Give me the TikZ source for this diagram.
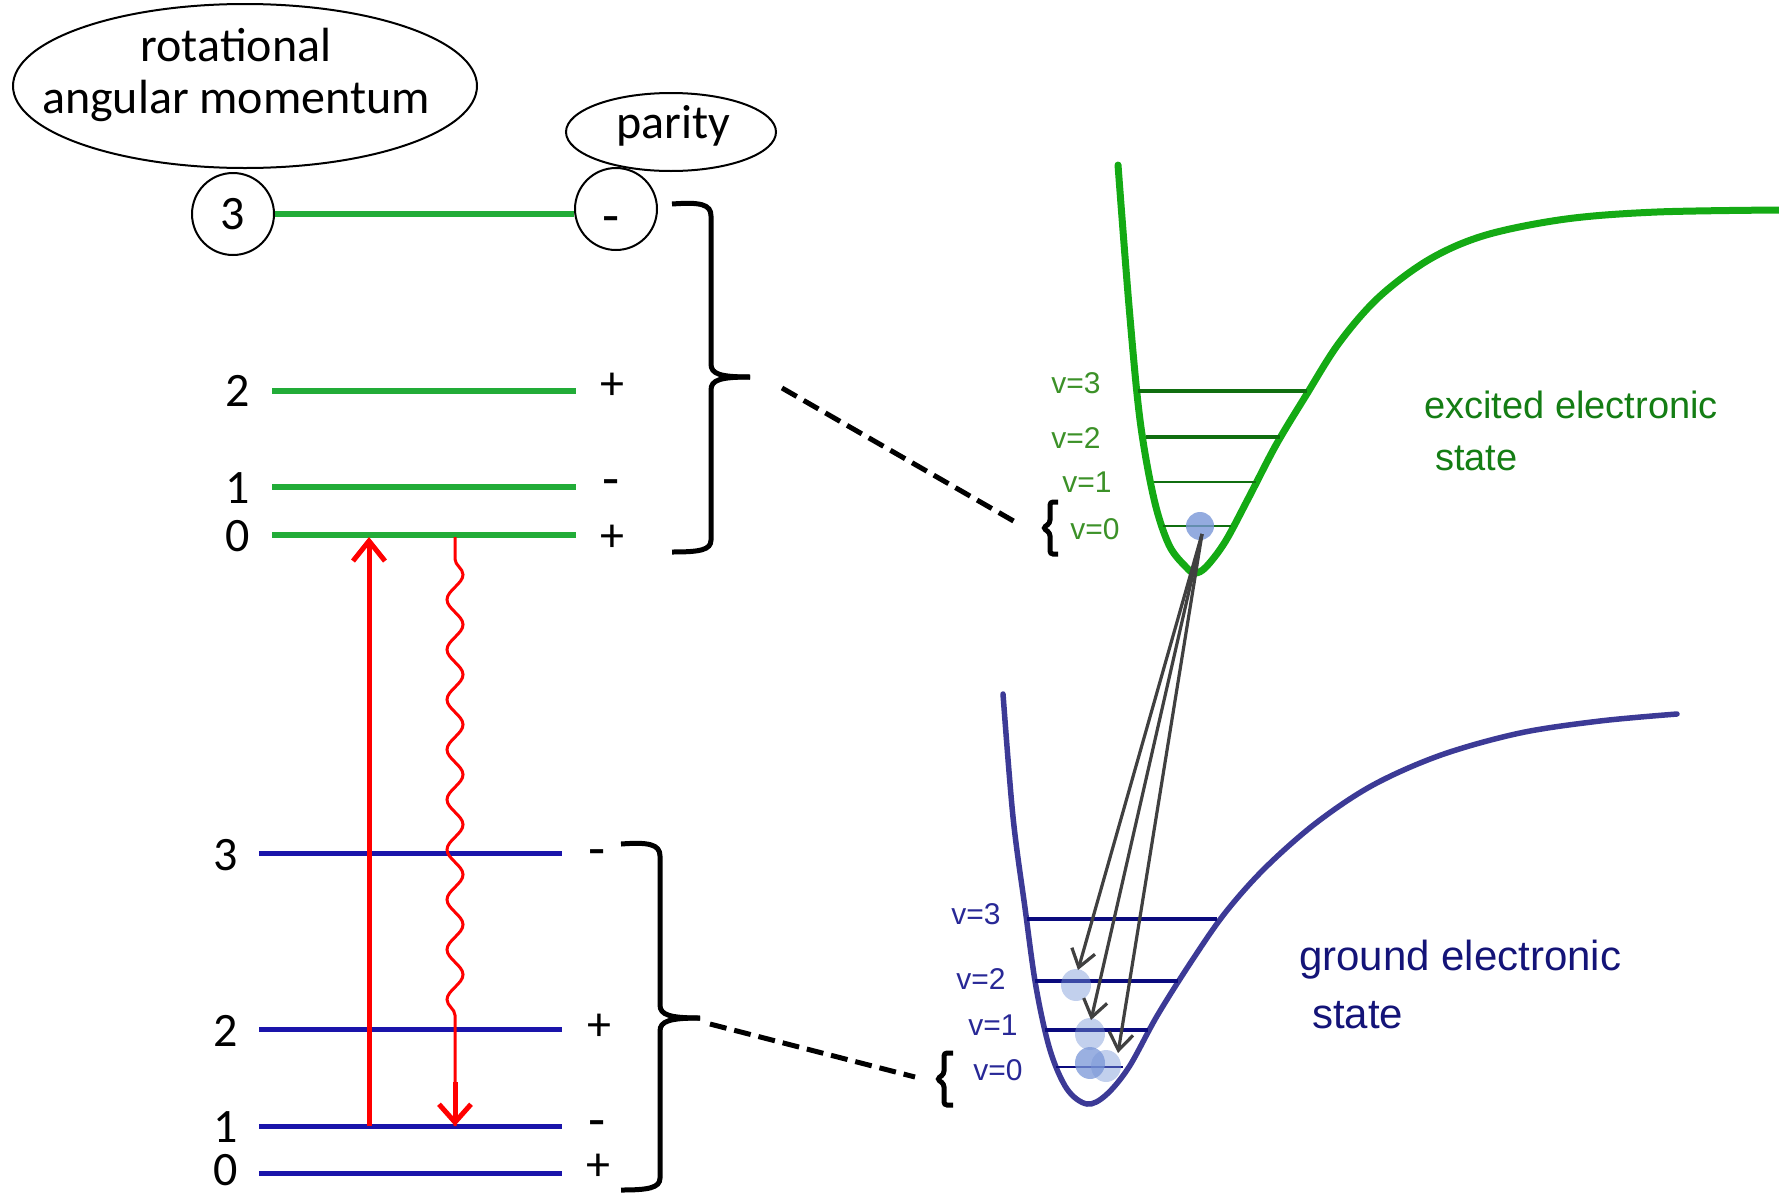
\documentclass[tikz,border=0pt]{standalone}
\usepackage{fontspec}
\setmainfont{Carlito}
\newfontfamily\arialf{Liberation Sans}
\usetikzlibrary{arrows.meta,decorations.pathmorphing,shapes.geometric}
\definecolor{lvgreen}{RGB}{34,172,56}
\definecolor{lvblue}{RGB}{26,20,170}
\definecolor{potgreen}{RGB}{20,170,20}
\definecolor{vgreen}{RGB}{16,110,16}
\definecolor{potblue}{RGB}{60,58,150}
\definecolor{vblue}{RGB}{10,10,125}
\definecolor{txtgreen}{RGB}{20,125,20}
\definecolor{vtxtgreen}{RGB}{60,145,40}
\definecolor{txtblue}{RGB}{20,20,120}
\definecolor{vtxtblue}{RGB}{40,40,150}
\definecolor{dotblue}{RGB}{120,150,215}
\definecolor{arrgray}{RGB}{64,64,64}
\begin{document}
\begin{tikzpicture}[x=1pt,y=-1pt,
  lbl/.style={font=\fontsize{48}{56}\selectfont, inner sep=0pt},
  minus/.style={font=\fontsize{56}{60}\selectfont, inner sep=0pt},
  oval/.style={draw, ellipse, line width=2pt, inner sep=0pt},
  ring/.style={draw, circle, line width=2pt, inner sep=0pt, minimum size=82pt, font=\fontsize{48}{56}\selectfont},
  glev/.style={lvgreen, line width=6pt},
  blev/.style={lvblue, line width=5pt},
  bracket/.style={black, line width=5pt},
  dashlink/.style={black, line width=5pt, dash pattern=on 17pt off 8pt},
  vtxtg/.style={font=\arialf\fontsize{30}{34}\selectfont, text=vtxtgreen, inner sep=0pt},
  vtxtb/.style={font=\arialf\fontsize{30}{34}\selectfont, text=vtxtblue, inner sep=0pt},
  dot/.style={fill=dotblue, fill opacity=0.45, draw=none},
  emit/.style={arrgray, line width=3.2pt, -{Straight Barb[length=17pt,width=24pt]}},
]
\useasboundingbox (0,0) rectangle (1779,1194);

% ---------- labels / ellipses ----------
\node[oval, minimum width=464pt, minimum height=164pt] (ram) at (245,86) {};
\node[lbl] (ramt1) at (236,45) {rotational};
\node[lbl] (ramt2) at (236,101) {angular momentum};
\node[oval, minimum width=210pt, minimum height=78pt] (par) at (671,132) {};
\node[lbl] (part) at (673,126) {parity};

% ---------- excited rotational levels ----------
\node[ring] (c3) at (233,214) {3};
\node[ring] (cm) at (616,209) {};
\node[minus] (cmt) at (611,226) {-};
\draw[glev] (c3.east) -- (c3.east -| cm.west);

\draw[glev] (272,391) coordinate (g2l) -- (576,391) coordinate (g2r);
\draw[glev] (272,487) coordinate (g1l) -- (576,487) coordinate (g1r);
\draw[glev] (272,535) coordinate (g0l) -- (576,535) coordinate (g0r);
\node[lbl] (gn2) at (238,391) {2};
\node[lbl] (gn1) at (238,488) {1};
\node[lbl] (gn0) at (238,536) {0};
\node[lbl] (gp2) at (612,386) {+};
\node[minus] (gp1) at (611,489) {-};
\node[lbl] (gp0) at (612,538) {+};

% ---------- ground rotational levels ----------
\draw[blev] (259,853) coordinate (b3l) -- (562,853) coordinate (b3r);
\draw[blev] (259,1029) coordinate (b2l) -- (562,1029) coordinate (b2r);
\draw[blev] (259,1126) coordinate (b1l) -- (562,1126) coordinate (b1r);
\draw[blev] (259,1173) coordinate (b0l) -- (562,1173) coordinate (b0r);
\node[lbl] (bn3) at (226,855) {3};
\node[lbl] (bn2) at (226,1031) {2};
\node[lbl] (bn1) at (226,1127) {1};
\node[lbl] (bn0) at (226,1170) {0};
\node[minus] (bp3) at (597,859) {-};
\node[lbl] (bp2) at (599,1027) {+};
\node[minus] (bp1) at (597,1130) {-};
\node[lbl] (bp0) at (598,1167) {+};

% ---------- big braces ----------
\coordinate (bt1) at (750,377);
\draw[bracket] (672,204) .. controls (700,202) and (711,204) .. (711,216) -- (711,364)
  .. controls (711,374) and (720,377) .. (bt1);
\draw[bracket] (bt1) .. controls (720,377) and (711,380) .. (711,390) -- (711,540)
  .. controls (711,550) and (700,552) .. (672,552);
\coordinate (bt2) at (700,1018);
\draw[bracket] (621,844) .. controls (648,842) and (660,844) .. (660,856) -- (660,1005)
  .. controls (660,1015) and (670,1018) .. (bt2);
\draw[bracket] (bt2) .. controls (670,1018) and (660,1021) .. (660,1031) -- (660,1178)
  .. controls (660,1188) and (648,1190) .. (621,1190);

% ---------- small braces ----------
\coordinate (sb1) at (1043,528);
\draw[line width=5pt, rounded corners=3pt] (1058,502) -- (1050,502) -- (1050,523) -- (sb1) -- (1050,533) -- (1050,554) -- (1058,554);
\coordinate (sb2) at (937,1079);
\draw[line width=5pt, rounded corners=3pt] (953,1053) -- (944,1053) -- (944,1074) -- (sb2) -- (944,1084) -- (944,1105) -- (953,1105);

% dashed links
\coordinate (d1a) at (782,388);
\coordinate (d1b) at (1017,523);
\draw[dashlink] (d1a) -- (d1b);
\coordinate (d2a) at (710,1024);
\draw[dashlink] (d2a) -- (915,1077) coordinate (d2b);

% ---------- red transitions ----------
\coordinate (ra1) at (369,1126);
\coordinate (ra0) at (369,537);
\draw[red, line width=5pt, -{Straight Barb[length=20pt,width=32pt]}] (ra1) -- (ra0);
\coordinate (wa0) at (455,537);
\coordinate (wa1) at (455,1126);
\draw[red, line width=3pt, decorate, decoration={snake, amplitude=8pt, segment length=50pt, pre length=22pt, post length=100pt}] (wa0) -- (wa1);
\coordinate (wa2) at (455,1082);
\draw[red, line width=5pt, -{Straight Barb[length=18pt,width=32pt]}] (wa2) -- (wa1);

% ---------- excited potential ----------
\draw[potgreen, line width=7pt, line cap=round] plot[smooth, tension=0.55] coordinates {
 (1118,165) (1129,306) (1140,420) (1154,499) (1169,545) (1186,567) (1195,573) (1206,567)
 (1225,542) (1248,499) (1276,445) (1305,397) (1339,343) (1379,297) (1430,259) (1486,235)
 (1566,219) (1657,212) (1779,210)};
\draw[vgreen, line width=4pt] (1138,391) -- (1307,391);
\draw[vgreen, line width=4pt] (1146,437) -- (1280,437);
\draw[vgreen, line width=2pt] (1154,482) -- (1256,482);
\draw[vgreen, line width=2pt] (1163,526) -- (1231,526);
\node[vtxtg] (ev3) at (1076,383) {v=3};
\node[vtxtg] (ev2) at (1076,438) {v=2};
\node[vtxtg] (ev1) at (1087,482) {v=1};
\node[vtxtg] (ev0) at (1095,529) {v=0};
\node[anchor=west, font=\arialf\fontsize{38}{44}\selectfont, text=txtgreen, inner sep=0pt] (ext1) at (1424,405) {excited electronic};
\node[anchor=west, font=\arialf\fontsize{38}{44}\selectfont, text=txtgreen, inner sep=0pt] (ext2) at (1435,458) {state};

% ---------- ground potential ----------
\draw[potblue, line width=5.5pt, line cap=round] plot[smooth, tension=0.55] coordinates {
 (1003,694) (1013,817) (1025,908) (1036,987) (1050,1050) (1067,1089) (1087,1104) (1106,1095)
 (1129,1067) (1157,1016) (1191,962) (1225,913) (1265,868) (1316,823) (1373,785) (1441,755)
 (1520,733) (1600,721) (1677,714)};
\draw[vblue, line width=4pt] (1027,919) -- (1217,919);
\draw[vblue, line width=4pt] (1035,981) -- (1178,981);
\draw[vblue, line width=4pt] (1045,1030) -- (1148,1030);
\draw[vblue, line width=2.5pt] (1056,1067) -- (1123,1067);
\node[vtxtb] (gv3) at (976,914) {v=3};
\node[vtxtb] (gv2) at (981,979) {v=2};
\node[vtxtb] (gv1) at (993,1025) {v=1};
\node[vtxtb] (gv0) at (998,1070) {v=0};
\node[anchor=west, font=\arialf\fontsize{42}{48}\selectfont, text=txtblue, inner sep=0pt] (grt1) at (1299,960) {ground electronic};
\node[anchor=west, font=\arialf\fontsize{42}{48}\selectfont, text=txtblue, inner sep=0pt] (grt2) at (1312,1015) {state};

% ---------- population dots ----------
\fill[dotblue, fill opacity=0.8] (1200,526) ellipse (14pt and 14pt);
\coordinate (ex0) at (1202,534);
\fill[dot] (1076,985) ellipse (15pt and 16pt);
\fill[dot] (1090,1034) ellipse (15pt and 16pt);
\fill[dot] (1106,1066) ellipse (15pt and 16pt);
\fill[dotblue, fill opacity=0.75] (1090,1063) ellipse (15pt and 16pt);

% ---------- emission arrows ----------
\coordinate (gd2) at (1078,970);
\coordinate (gd1) at (1091,1020);
\coordinate (gd0) at (1118,1053);
\draw[emit] (ex0) -- (gd2);
\draw[emit] (ex0) -- (gd1);
\draw[emit] (ex0) -- (gd0);
\end{tikzpicture}
\end{document}
